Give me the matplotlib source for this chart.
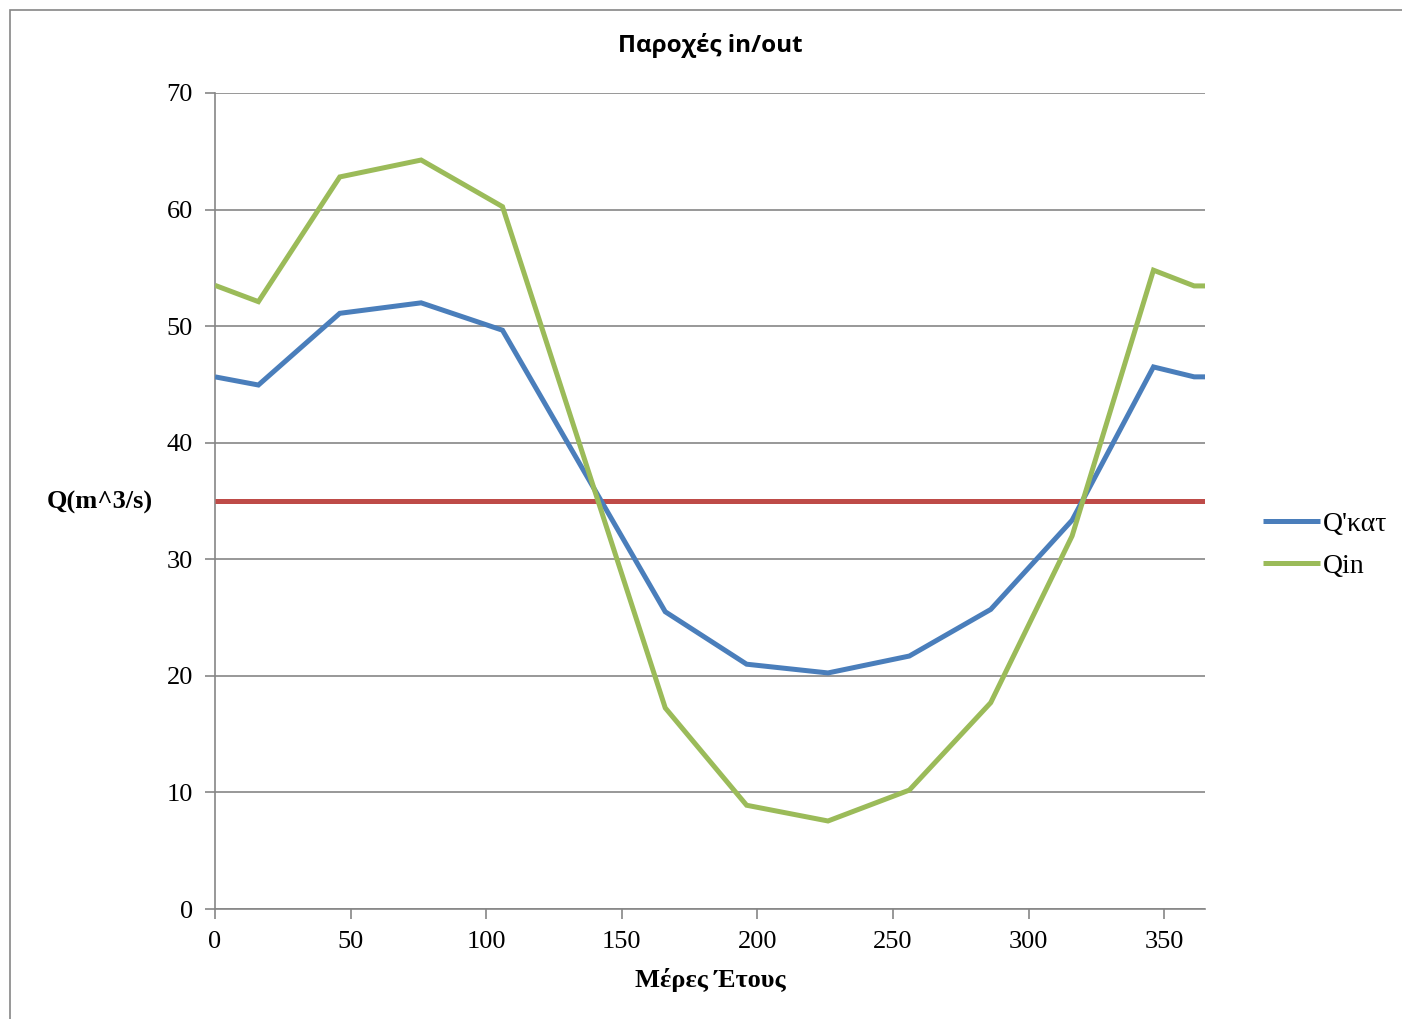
import matplotlib
matplotlib.use("Agg")
import matplotlib.pyplot as plt
from matplotlib.patches import Rectangle

days = [0, 16, 46, 76, 106, 166, 196, 226, 256, 286, 316, 346, 361, 365]
q_kat = [45.65, 44.95, 51.1, 52.0, 49.65, 25.5, 21.0, 20.25, 21.7, 25.7, 33.35, 46.5, 45.65, 45.65]
q_in = [53.5, 52.1, 62.8, 64.25, 60.25, 17.25, 8.9, 7.55, 10.2, 17.7, 32.0, 54.8, 53.45, 53.45]
q_out_days = [0, 365]
q_out = [35, 35]

title = "Παροχές in/out"
xlabel = "Μέρες Έτους"
ylabel = "Q(m^3/s)"
labels = ["Q'κατ", "Qin"]

W, H = 1402, 1019
fig = plt.figure(figsize=(W / 100, H / 100), dpi=100)
ax = fig.add_axes([215 / W, 1 - 909 / H, (1205 - 215) / W, (909 - 93) / H])

grid_c = "#868686"
serif = ["Liberation Serif", "DejaVu Serif"]

ax.plot(q_out_days, q_out, color="#BE4B48", lw=3.6, solid_capstyle="butt", zorder=3)
l1, = ax.plot(days, q_kat, color="#4A7EBB", lw=3.6, solid_joinstyle="miter", solid_capstyle="butt", zorder=4)
l2, = ax.plot(days, q_in, color="#9BBB59", lw=3.6, solid_joinstyle="miter", solid_capstyle="butt", zorder=4)

ax.set_xlim(0, 365)
ax.set_ylim(0, 70)
ax.set_xticks(range(0, 351, 50))
ax.set_yticks(range(0, 71, 10))
ax.yaxis.grid(True, color=grid_c, lw=1.2)
ax.set_axisbelow(True)
for s in ["top", "right"]:
    ax.spines[s].set_visible(False)
for s in ["left", "bottom"]:
    ax.spines[s].set_color(grid_c)
    ax.spines[s].set_linewidth(1.2)
ax.tick_params(axis="both", colors=grid_c, length=7, width=1.2, labelcolor="black", labelsize=19)
ax.tick_params(axis="x", pad=9)
ax.tick_params(axis="y", pad=9)
for t in ax.get_xticklabels() + ax.get_yticklabels():
    t.set_fontfamily(serif)

fig.text(710 / W, 1 - 45 / H, title, ha="center", va="center", fontsize=17.5,
         fontweight="bold", family=["Open Sans", "DejaVu Sans"])
fig.text(710 / W, 1 - 980 / H, xlabel, ha="center", va="center", fontsize=19,
         fontweight="bold", family=serif)
fig.text(100 / W, 1 - 502 / H, ylabel, ha="center", va="center", fontsize=19,
         fontweight="bold", family=serif)

leg = fig.legend([l1, l2], labels, loc="center left", bbox_to_anchor=(1263 / W, 1 - 545 / H),
                 frameon=False, handlelength=2.05, handletextpad=0.12, labelspacing=0.6,
                 borderpad=0, borderaxespad=0,
                 prop={"family": serif, "size": 20})

fig.patches.append(Rectangle((10 / W, -0.05), 1.2, 1 - 10 / H + 0.05, transform=fig.transFigure,
                             fill=False, edgecolor="#868686", lw=1.2))

fig.savefig("out.png", dpi=100, facecolor="white")
